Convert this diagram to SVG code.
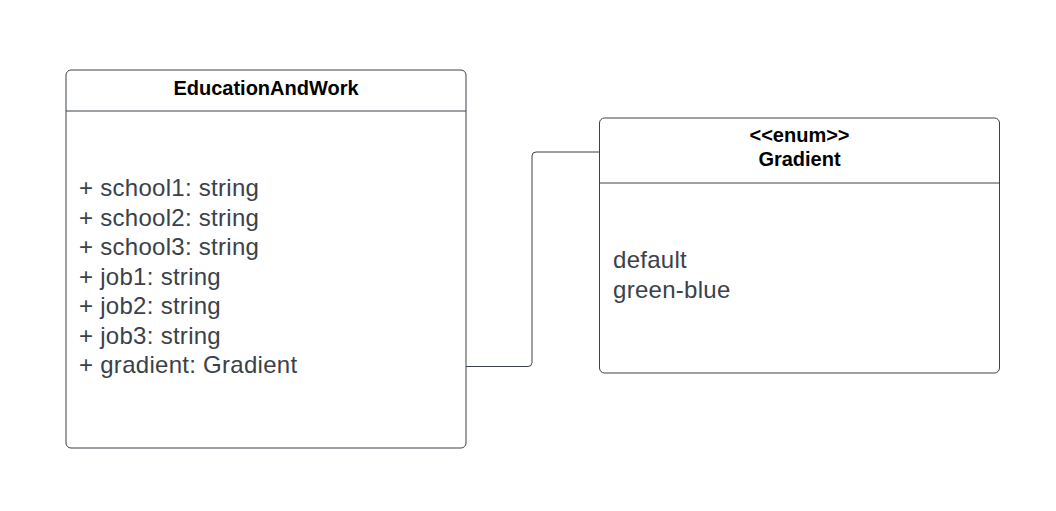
<svg xmlns="http://www.w3.org/2000/svg" width="1056" height="511" viewBox="0 0 1056 511">
<style>
.box{fill:#ffffff;stroke:#3a414a;stroke-width:1}
.sep{stroke:#3a414a;stroke-width:1}
.title{font-family:"Liberation Sans",Arial,sans-serif;font-weight:bold;font-size:20px;fill:#000000;text-anchor:middle}
.attr{font-family:"Liberation Sans",Arial,sans-serif;font-size:24px;fill:#3a414a;letter-spacing:0.28px}
.conn{fill:none;stroke:#3a414a;stroke-width:1}
</style>
<rect width="1056" height="511" fill="#ffffff"/>
<g id="EducationAndWork">
<rect class="box" x="66" y="70" width="400" height="378" rx="5"/>
<line class="sep" x1="66" y1="111" x2="466" y2="111"/>
<text class="title" x="266" y="94.5">EducationAndWork</text>
<text class="attr" x="79" y="196">+ school1: string</text>
<text class="attr" x="79" y="225.5">+ school2: string</text>
<text class="attr" x="79" y="255">+ school3: string</text>
<text class="attr" x="79" y="284.5">+ job1: string</text>
<text class="attr" x="79" y="314">+ job2: string</text>
<text class="attr" x="79" y="343.5">+ job3: string</text>
<text class="attr" x="79" y="373">+ gradient: Gradient</text>
</g>
<g id="Gradient">
<rect class="box" x="599.5" y="118" width="400" height="255" rx="5"/>
<line class="sep" x1="599.5" y1="183" x2="999.5" y2="183"/>
<text class="title" x="799.5" y="142">&lt;&lt;enum&gt;&gt;</text>
<text class="title" x="799.5" y="166">Gradient</text>
<text class="attr" x="613" y="268">default</text>
<text class="attr" x="613" y="297.5">green-blue</text>
</g>
<g id="connectors">
<path class="conn" d="M466 366.5 H528 Q532 366.5 532 362.5 V156 Q532 152 536 152 H599.5"/>
</g>
</svg>
